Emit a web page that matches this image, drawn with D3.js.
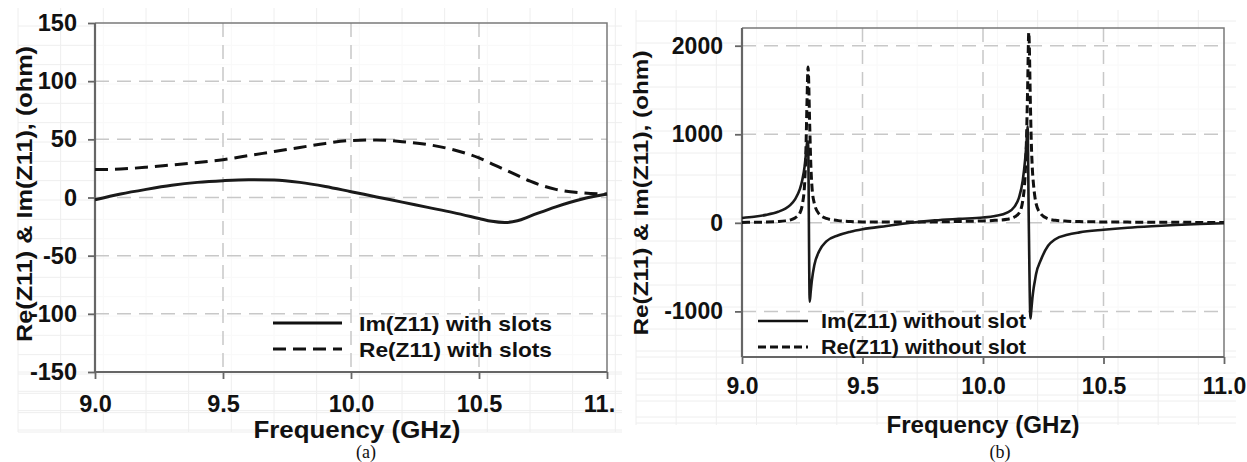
<!DOCTYPE html>
<html>
<head>
<meta charset="utf-8">
<script src="https://cdn.jsdelivr.net/npm/d3@7"></script>
<style>
  body { margin: 0; background: #fff; }
  svg { display: block; font-family: "Liberation Sans", Arial, sans-serif; }
  .tick text { font-weight: bold; fill: #111; }
</style>
</head>
<body>
<svg id="chart" width="1247" height="462"></svg>
<script>
// ---- data: panel (a), with slots ----
const freqA = [9.0, 9.1, 9.2, 9.3, 9.4, 9.5, 9.6, 9.7, 9.8, 9.9, 10.0, 10.1, 10.2, 10.3, 10.4, 10.5, 10.55, 10.6, 10.65, 10.7, 10.8, 10.9, 11.0];
const imA = [-2, 3, 7, 10.5, 13, 14.5, 15.3, 15, 13, 9.5, 5, 0.5, -4, -8.5, -13, -18, -20.5, -21.5, -20, -16, -8, -1.5, 3];
const reA = [24, 24.5, 26, 28, 30, 32.5, 36, 39.5, 43, 46.5, 49, 49.5, 48, 45.5, 41, 34, 29, 24, 19, 14, 7, 4, 3];

// ---- data: panel (b), without slot ----
const freqB = [9.00, 9.05, 9.10, 9.15, 9.18, 9.20, 9.22, 9.24, 9.25, 9.26, 9.265, 9.27, 9.274, 9.281, 9.285, 9.29, 9.30, 9.32, 9.35, 9.40, 9.45, 9.50, 9.60, 9.70, 9.80, 9.90,
  10.00, 10.05, 10.10, 10.13, 10.15, 10.165, 10.175, 10.18, 10.185, 10.19, 10.197, 10.20, 10.205, 10.21, 10.215, 10.22, 10.24, 10.27, 10.30, 10.35, 10.40, 10.50, 10.60, 10.70, 10.80, 10.90, 11.00];
const imB = [55, 68, 90, 125, 160, 200, 265, 380, 480, 640, 770, 900, 920, -890, -780, -650, -480, -320, -210, -140, -100, -72, -35, 0, 28, 45,
  60, 78, 115, 180, 290, 480, 720, 880, 1090, 0, -1080, -1000, -850, -740, -660, -580, -420, -260, -185, -135, -108, -78, -55, -38, -24, -13, -4];
const reB = [5, 6, 8, 14, 22, 32, 55, 110, 200, 450, 800, 1400, 1760, 1100, 700, 420, 220, 100, 50, 25, 15, 10, 8, 8, 10, 15,
  22, 28, 40, 65, 110, 250, 550, 900, 1500, 2150, 1300, 950, 600, 420, 300, 220, 100, 45, 28, 18, 14, 10, 8, 7, 6, 5, 5];

// ---- ticks / labels ----
const xTicks = [9.0, 9.5, 10.0, 10.5, 11.0];
const xLabelsA = ["9.0", "9.5", "10.0", "10.5", "11."];
const xLabelsB = ["9.0", "9.5", "10.0", "10.5", "11.0"];
const yTicksA = [-150, -100, -50, 0, 50, 100, 150];
const yTicksB = [-1000, 0, 1000, 2000];
const legendA = ["Im(Z11) with slots", "Re(Z11) with slots"];
const legendB = ["Im(Z11) without slot", "Re(Z11) without slot"];
const yTitle = "Re(Z11) & Im(Z11), (ohm)";
const xTitle = "Frequency (GHz)";

const svg = d3.select("#chart");
svg.append("rect").attr("width", 1247).attr("height", 462).attr("fill", "#fff");

function drawPanel(p) {
  const g = svg.append("g");
  const x = d3.scaleLinear().domain([9, 11]).range(p.xRange);
  const y = d3.scaleLinear().domain(p.yDomain).range(p.yRange);
  const [x0, x1] = p.xRange;
  const [y1, y0] = p.yRange;

  // faint paper grid behind everything
  const fx = d3.range(p.bg[0], p.bg[2], (x1 - x0) / 12);
  const fy = d3.range(y1 + 60, p.bg[1], -p.bgStepY).concat(d3.range(y1, p.bg[3], p.bgStepY));
  g.append("g").selectAll("line").data(fx).join("line")
    .attr("x1", d => d).attr("x2", d => d).attr("y1", p.bg[1]).attr("y2", p.bg[3])
    .attr("stroke", "#eeeeee").attr("stroke-width", 1);
  g.append("g").selectAll("line").data(fy).join("line")
    .attr("y1", d => d).attr("y2", d => d).attr("x1", p.bg[0]).attr("x2", p.bg[2])
    .attr("stroke", "#eeeeee").attr("stroke-width", 1);
  g.append("rect").attr("x", x0).attr("y", y0).attr("width", x1 - x0).attr("height", y1 - y0)
    .attr("fill", "#fff").attr("opacity", 0.6);

  // dashed major grid
  g.append("g").selectAll("line").data(xTicks.slice(1, -1)).join("line")
    .attr("x1", d => x(d)).attr("x2", d => x(d)).attr("y1", y0).attr("y2", y1)
    .attr("stroke", "#c8c8c8").attr("stroke-width", 1.5).attr("stroke-dasharray", "14,8");
  g.append("g").selectAll("line").data(p.yTicks.filter(v => y(v) > y0 + 2 && y(v) < y1 - 2)).join("line")
    .attr("x1", x0).attr("x2", x1).attr("y1", d => y(d)).attr("y2", d => y(d))
    .attr("stroke", "#c8c8c8").attr("stroke-width", 1.5).attr("stroke-dasharray", "14,8");

  // frame
  g.append("path").attr("d", `M${x0},${y0}H${x1}V${y1}`).attr("fill", "none")
    .attr("stroke", "#7a7a7a").attr("stroke-width", 1.5);

  // axes
  const ya = g.append("g").attr("transform", `translate(${x0},0)`)
    .call(d3.axisLeft(y).tickValues(p.yTicks).tickSize(7).tickPadding(p.yPad)
      .tickFormat(d => String(d)));
  const xa = g.append("g").attr("transform", `translate(0,${y1})`)
    .call(d3.axisBottom(x).tickValues(xTicks).tickSize(7).tickPadding(p.xPad)
      .tickFormat((d, i) => p.xLabels[i]));
  [ya, xa].forEach(a => {
    a.attr("font-family", null);
    a.select(".domain").attr("stroke", "#666").attr("stroke-width", 2.2);
    a.selectAll(".tick line").attr("stroke", "#666").attr("stroke-width", 1.8);
    a.selectAll(".tick text").attr("font-size", p.tickFont);
  });
  ya.select(".domain").attr("d", `M0,${y0}V${y1}`);
  xa.select(".domain").attr("d", `M${x0},0H${x1}`);
  if (p.lastDx) xa.selectAll(".tick text").filter((d, i) => i === xTicks.length - 1).attr("dx", p.lastDx);

  // lines
  const line = d3.line().x(d => x(d[0])).y(d => y(d[1])).curve(d3.curveMonotoneX);
  g.append("path").datum(p.freq.map((f, i) => [f, p.re[i]]))
    .attr("d", line).attr("fill", "none").attr("stroke", "#111")
    .attr("stroke-width", p.dashW).attr("stroke-dasharray", p.dash);
  g.append("path").datum(p.freq.map((f, i) => [f, p.im[i]]))
    .attr("d", line).attr("fill", "none").attr("stroke", "#1a1a1a")
    .attr("stroke-width", p.solidW);

  // legend
  const lg = g.append("g");
  p.legend.forEach((t, i) => {
    const ly = p.legY[i];
    lg.append("line").attr("x1", p.legX[0]).attr("x2", p.legX[1]).attr("y1", ly).attr("y2", ly)
      .attr("stroke", "#111").attr("stroke-width", i ? p.dashW : p.solidW)
      .attr("stroke-dasharray", i ? p.legDash : null);
    lg.append("text").attr("x", p.legX[2]).attr("y", ly).attr("dy", "0.36em")
      .attr("font-size", p.legFont).attr("font-weight", "bold").attr("fill", "#111")
      .attr("textLength", p.legLen).attr("lengthAdjust", "spacingAndGlyphs").text(t);
  });

  // titles
  g.append("text").attr("transform", `translate(${p.yTitlePos[0]},${p.yTitlePos[1]}) rotate(-90)`)
    .attr("text-anchor", "middle").attr("dy", "0.35em").attr("font-size", p.yTitleFont)
    .attr("textLength", p.yTitleLen).attr("lengthAdjust", "spacingAndGlyphs")
    .attr("font-weight", "bold").attr("fill", "#111").text(yTitle);
  g.append("text").attr("x", p.xTitlePos[0]).attr("y", p.xTitlePos[1])
    .attr("text-anchor", "middle").attr("font-size", 23).attr("font-weight", "bold")
    .attr("textLength", p.xTitleLen).attr("lengthAdjust", "spacingAndGlyphs")
    .attr("fill", "#111").text(xTitle);
  g.append("text").attr("x", p.capPos[0]).attr("y", p.capPos[1])
    .attr("text-anchor", "middle").attr("font-size", 18)
    .attr("font-family", "'Liberation Serif', 'Times New Roman', serif").attr("fill", "#111").text(p.caption);
}

drawPanel({
  xRange: [95, 607], yRange: [372, 23], yDomain: [-150, 150],
  yTicks: yTicksA, xLabels: xLabelsA, xPad: 16, yPad: 11, tickFont: 23.5, lastDx: -8,
  bg: [18, 8, 622, 432], bgStepY: 58 / 3,
  freq: freqA, im: imA, re: reA,
  solidW: 3, dashW: 3, dash: "13,7", legDash: "13,7",
  legend: legendA, legX: [273, 342, 359], legY: [323, 349], legFont: 21, legLen: 193,
  yTitlePos: [24, 194], yTitleFont: 22, yTitleLen: 296,
  xTitlePos: [357, 438], xTitleLen: 207, capPos: [366, 458], caption: "(a)"
});

drawPanel({
  xRange: [742, 1224], yRange: [357, 28], yDomain: [-1515, 2200],
  yTicks: yTicksB, xLabels: xLabelsB, xPad: 14, yPad: 12, tickFont: 23,
  bg: [636, 10, 1236, 425], bgStepY: 22,
  freq: freqB, im: imB, re: reB,
  solidW: 2.6, dashW: 3, dash: "8,4", legDash: "8,4",
  legend: legendB, legX: [758, 808, 821], legY: [321, 347], legFont: 20.5, legLen: 205,
  yTitlePos: [641, 193], yTitleFont: 21, yTitleLen: 285,
  xTitlePos: [983, 433], xTitleLen: 193, capPos: [1000, 458], caption: "(b)"
});
</script>
</body>
</html>
